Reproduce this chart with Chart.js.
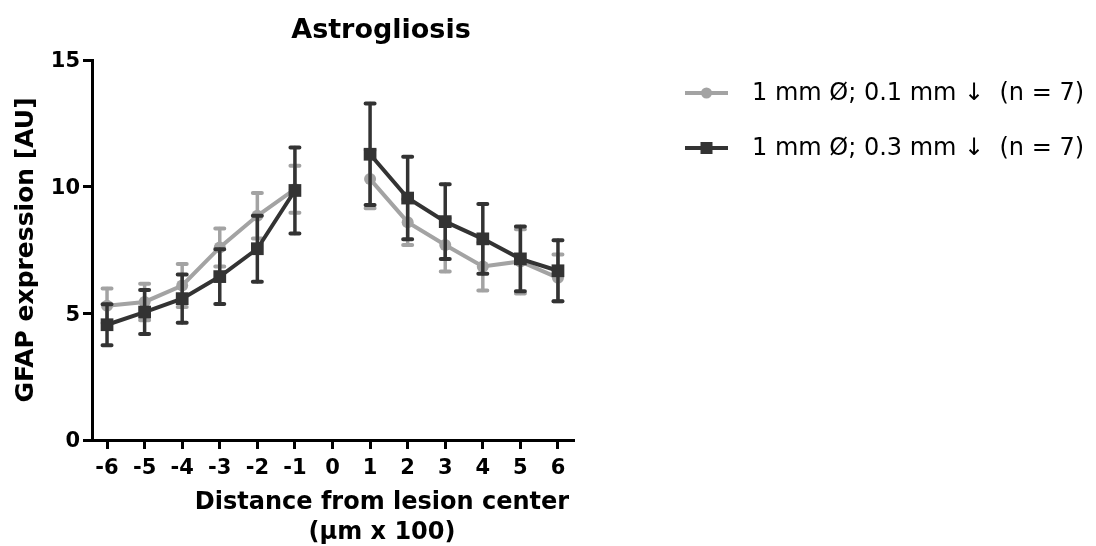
<!DOCTYPE html>
<html>
<head>
<meta charset="utf-8">
<script src="https://cdn.jsdelivr.net/npm/chart.js@4/dist/chart.umd.min.js"></script>
<style>
  html, body { margin: 0; padding: 0; background: #fff; }
  #wrap { width: 1096px; height: 546px; }
</style>
</head>
<body>
<div id="wrap"><canvas id="chart" width="1096" height="546"></canvas></div>
<script>
// distance from lesion center (x 100 µm); 0 left empty
const distances = [-6, -5, -4, -3, -2, -1, 0, 1, 2, 3, 4, 5, 6];

// 1 mm Ø; 0.1 mm depth
const shallowMean = [5.3, 5.45, 6.1, 7.6, 8.85, 9.9, null, 10.3, 8.6, 7.7, 6.85, 7.05, 6.4];
const shallowSem  = [0.68, 0.72, 0.85, 0.75, 0.9, 0.93, null, 1.15, 0.9, 1.05, 0.95, 1.27, 0.92];

// 1 mm Ø; 0.3 mm depth
const deepMean = [4.55, 5.05, 5.58, 6.45, 7.55, 9.85, null, 11.28, 9.55, 8.62, 7.94, 7.15, 6.68];
const deepSem  = [0.81, 0.87, 0.95, 1.08, 1.3, 1.7, null, 2.0, 1.63, 1.48, 1.38, 1.28, 1.2];

const yTicks = [0, 5, 10, 15];

const seriesNames = ["1 mm Ø; 0.1 mm ↓  (n = 7)", "1 mm Ø; 0.3 mm ↓  (n = 7)"];
const GREY = "#a3a3a3";
const DARK = "#333333";
const FONT = "'DejaVu Sans', Verdana, sans-serif";

const toPoints = means => distances.map((d, i) => ({ x: d, y: means[i] }));

// mean ± SEM whiskers, drawn under each dataset's line and markers
const errorBars = {
  id: "errorBars",
  beforeDatasetDraw(chart, args) {
    const ds = chart.data.datasets[args.index];
    const { ctx, scales: { x, y } } = chart;
    ctx.save();
    ctx.strokeStyle = ds.borderColor;
    ctx.lineCap = "round";
    ds.sem.forEach((s, i) => {
      const m = ds.data[i].y;
      if (m == null) return;
      const px = x.getPixelForValue(ds.data[i].x);
      const top = y.getPixelForValue(m + s);
      const bot = y.getPixelForValue(m - s);
      ctx.lineWidth = 3.5;
      ctx.beginPath();
      ctx.moveTo(px, top);
      ctx.lineTo(px, bot);
      ctx.stroke();
      ctx.lineWidth = 4;
      ctx.beginPath();
      ctx.moveTo(px - 4.5, top); ctx.lineTo(px + 4.5, top);
      ctx.moveTo(px - 4.5, bot); ctx.lineTo(px + 4.5, bot);
      ctx.stroke();
    });
    ctx.restore();
  }
};

// title, x-axis caption and legend
const annotations = {
  id: "annotations",
  afterDraw(chart) {
    const ctx = chart.ctx;
    ctx.save();
    ctx.fillStyle = "#000";
    ctx.textAlign = "center";
    ctx.textBaseline = "middle";
    ctx.font = "bold 27px " + FONT;
    ctx.fillText("Astrogliosis", 381, 31);
    ctx.font = "bold 24px " + FONT;
    ctx.fillText("Distance from lesion center", 382, 503);
    ctx.fillText("(µm x 100)", 382, 533);

    chart.data.datasets.forEach((ds, i) => {
      const y = 93 + i * 55;
      ctx.strokeStyle = ds.borderColor;
      ctx.lineWidth = 4;
      ctx.beginPath();
      ctx.moveTo(685, y);
      ctx.lineTo(728, y);
      ctx.stroke();
      ctx.fillStyle = ds.borderColor;
      ctx.beginPath();
      if (ds.pointStyle === "circle") {
        ctx.arc(706.5, y, 5.5, 0, Math.PI * 2);
      } else {
        ctx.rect(700.5, y - 6, 12, 12);
      }
      ctx.fill();
      ctx.fillStyle = "#000";
      ctx.textAlign = "left";
      ctx.font = "24px " + FONT;
      ctx.fillText(seriesNames[i], 752, y + 1);
    });
    ctx.restore();
  }
};

new Chart(document.getElementById("chart"), {
  type: "line",
  data: {
    datasets: [
      {
        label: seriesNames[0],
        data: toPoints(shallowMean),
        sem: shallowSem,
        order: 1,
        borderColor: GREY,
        backgroundColor: GREY,
        borderWidth: 4,
        pointStyle: "circle",
        pointRadius: 6,
        pointBorderWidth: 0,
        spanGaps: false
      },
      {
        label: seriesNames[1],
        data: toPoints(deepMean),
        sem: deepSem,
        order: 0,
        borderColor: DARK,
        backgroundColor: DARK,
        borderWidth: 4,
        pointStyle: "rect",
        pointRadius: 9,
        pointBorderWidth: 0,
        spanGaps: false
      }
    ]
  },
  options: {
    responsive: false,
    animation: false,
    layout: { padding: { top: 60, right: 523, bottom: 0, left: 0 } },
    plugins: { legend: { display: false }, tooltip: { enabled: false } },
    scales: {
      x: {
        type: "linear",
        min: -6.4,
        max: 6.4,
        afterFit: s => { s.height = 106; },
        afterBuildTicks: s => { s.ticks = distances.map(v => ({ value: v })); },
        ticks: {
          includeBounds: false,
          padding: 7,
          color: "#000",
          font: { family: FONT, size: 21, weight: "bold" }
        },
        grid: { drawOnChartArea: false, drawTicks: true, tickLength: 9, color: "#000", lineWidth: 3 },
        border: { color: "#000", width: 3 }
      },
      y: {
        min: 0,
        max: 15,
        afterFit: s => { s.width = 92; },
        afterBuildTicks: s => { s.ticks = yTicks.map(v => ({ value: v })); },
        ticks: {
          padding: 3,
          labelOffset: 2,
          color: "#000",
          font: { family: FONT, size: 21, weight: "bold" }
        },
        grid: { drawOnChartArea: false, drawTicks: true, tickLength: 9, color: "#000", lineWidth: 3 },
        border: { color: "#000", width: 3 },
        title: {
          display: true,
          text: "GFAP expression [AU]",
          color: "#000",
          padding: { top: 11, bottom: 0 },
          font: { family: FONT, size: 25, weight: "bold" }
        }
      }
    }
  },
  plugins: [errorBars, annotations]
});
</script>
</body>
</html>
